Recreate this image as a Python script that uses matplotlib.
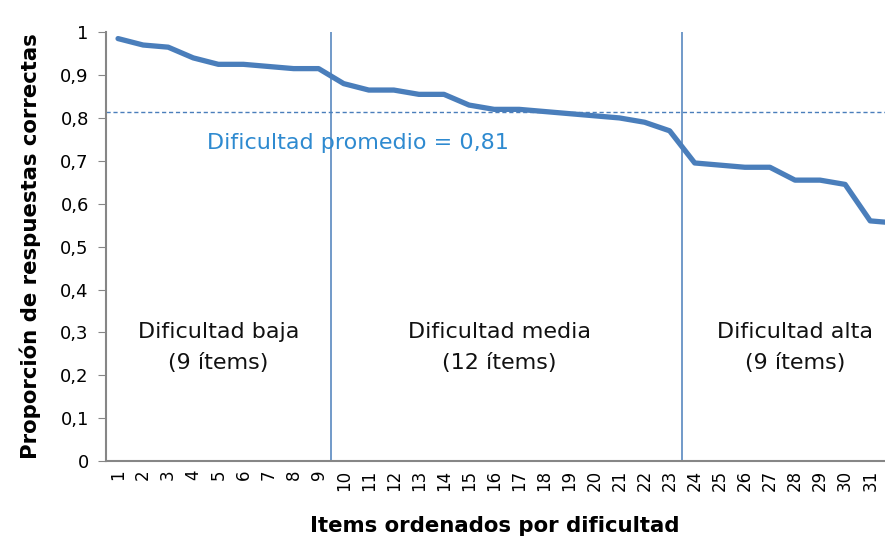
import matplotlib
matplotlib.use("Agg")
import matplotlib.pyplot as plt
from matplotlib.ticker import FuncFormatter

# proporcion de respuestas correctas por item (ordenado)
items = list(range(1, 33))
proporcion = [0.985, 0.97, 0.965, 0.94, 0.925, 0.925, 0.92, 0.915, 0.915,
              0.88, 0.865, 0.865, 0.855, 0.855, 0.83, 0.82, 0.82, 0.815,
              0.81, 0.805, 0.80, 0.79, 0.77, 0.695, 0.69, 0.685, 0.685,
              0.655, 0.655, 0.645, 0.56, 0.555]
etiquetas = [str(i) for i in range(1, 32)]
promedio = 0.813
cortes = [9.5, 23.5]
grupos = ["Dificultad baja\n(9 ítems)", "Dificultad media\n(12 ítems)", "Dificultad alta\n(9 ítems)"]
grupo_x = [5, 16.2, 28]

azul = "#4A7EBB"
gris = "#868686"

plt.rcParams['font.family'] = ['DejaVu Sans']
fig = plt.figure(figsize=(8.85, 5.45), dpi=100)
ax = fig.add_axes([105.5 / 885, 0.154, (885 - 105.5) / 885, 0.787])

ax.plot(items, proporcion, color=azul, lw=3.8, solid_joinstyle='round', solid_capstyle='round')
for c in cortes:
    ax.axvline(c, color=azul, lw=1.1)
ax.axhline(promedio, color=azul, lw=1, ls=(0, (3, 2)))
ax.text(4.55, 0.741, "Dificultad promedio = 0,81", color="#2E8AD0", fontsize=16, va='center', ha='left')

for t, x in zip(grupos, grupo_x):
    ax.text(x, 0.264, t, ha='center', va='center', fontsize=16, color='#111111', linespacing=1.7)

ax.set_xlim(0.5, 31.59)
ax.set_ylim(0, 1)
ax.set_xticks(range(1, 32))
ax.set_xticklabels(etiquetas, rotation=90, fontsize=12)
ax.set_yticks([i / 10 for i in range(11)])
ax.yaxis.set_major_formatter(FuncFormatter(lambda v, p: ("%g" % round(v, 1)).replace('.', ',')))
ax.tick_params(axis='y', direction='out', length=6, color=gris, labelsize=13, pad=6)
ax.tick_params(axis='x', length=0, pad=6)

for s in ['top', 'right']:
    ax.spines[s].set_visible(False)
for s in ['left', 'bottom']:
    ax.spines[s].set_color(gris)
    ax.spines[s].set_linewidth(1.5)

ax.set_xlabel("Items ordenados por dificultad", fontsize=15.3, fontweight='bold', labelpad=18)
ax.set_ylabel("Proporción de respuestas correctas", fontsize=15.3, fontweight='bold', labelpad=14)

fig.savefig("out.png", dpi=100)
